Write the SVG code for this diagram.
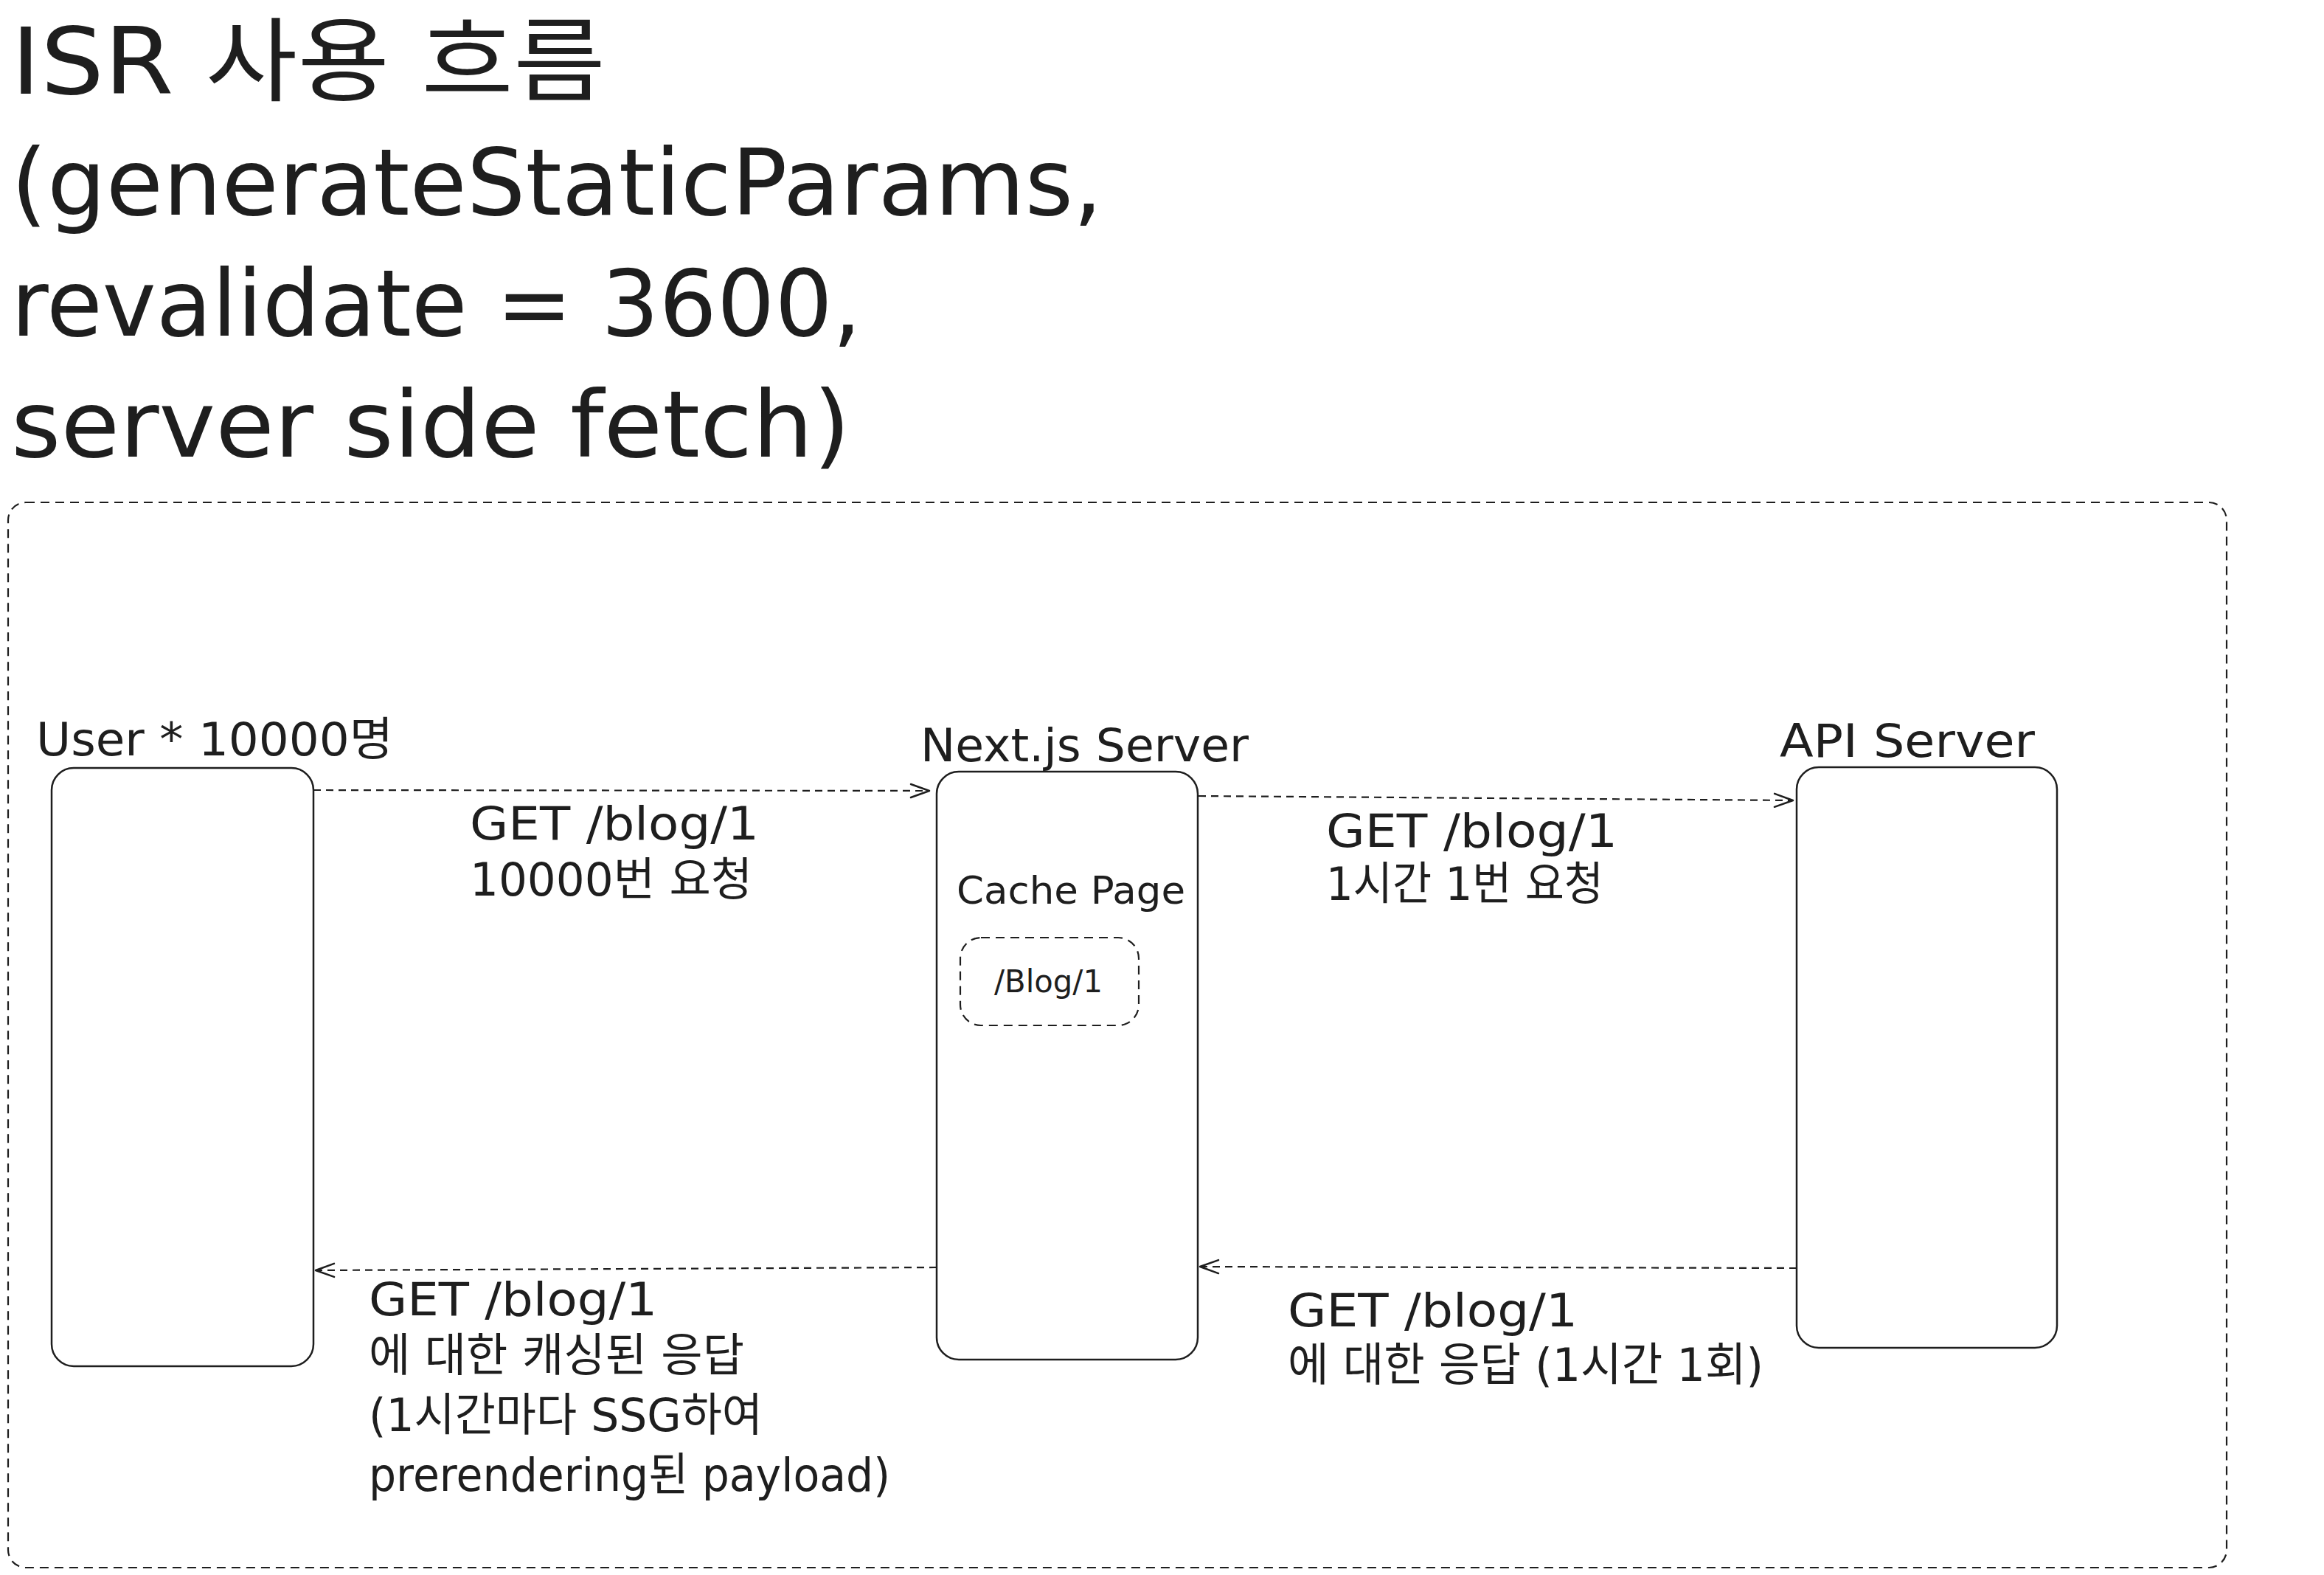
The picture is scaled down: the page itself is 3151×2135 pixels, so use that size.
<svg xmlns="http://www.w3.org/2000/svg" width="3151" height="2135" viewBox="0 0 3151 2135">
<defs>
<style>
.t{font-family:"DejaVu Sans","Noto Sans CJK KR",sans-serif;fill:#1e1e1e}
.title{font-size:124px}
.lbl{font-size:62px}
.box{fill:#ffffff;stroke:#1e1e1e;stroke-width:2.5}
.dash{fill:none;stroke:#1e1e1e;stroke-width:2.2;stroke-dasharray:12 8}
.conn{fill:none;stroke:#1e1e1e;stroke-width:2.2;stroke-dasharray:10 7}
</style>
<marker id="arr" markerUnits="userSpaceOnUse" markerWidth="34" markerHeight="26" viewBox="-30 -13 34 26" refX="0" refY="0" orient="auto">
<path d="M-25,-9 L0,0 L-25,9" fill="none" stroke="#1e1e1e" stroke-width="2.5" stroke-linecap="round" stroke-linejoin="round"/>
</marker>
</defs>
<rect width="3151" height="2135" fill="#ffffff"/>
<g id="title">
<text class="t title" x="15" y="127" textLength="806" lengthAdjust="spacingAndGlyphs">ISR 사용 흐름</text>
<text class="t title" x="15" y="291" textLength="1480" lengthAdjust="spacingAndGlyphs">(generateStaticParams,</text>
<text class="t title" x="15" y="455" textLength="1153" lengthAdjust="spacingAndGlyphs">revalidate = 3600,</text>
<text class="t title" x="15" y="619" textLength="1138" lengthAdjust="spacingAndGlyphs">server side fetch)</text>
</g>
<g id="frame">
<rect class="dash" x="11" y="681" width="3008" height="1444" rx="24"/>
</g>
<g id="user">
<rect class="box" x="70" y="1041" width="355" height="811" rx="30"/>
<text class="t lbl" x="49" y="1024" textLength="484" lengthAdjust="spacingAndGlyphs">User * 10000명</text>
</g>
<g id="nextjs">
<rect class="box" x="1270" y="1046" width="354" height="797" rx="30"/>
<text class="t lbl" x="1248" y="1032" textLength="445" lengthAdjust="spacingAndGlyphs">Next.js Server</text>
<text class="t" style="font-size:52px" x="1297" y="1225" textLength="310" lengthAdjust="spacingAndGlyphs">Cache Page</text>
</g>
<g id="cache">
<rect class="dash" x="1302" y="1271" width="242" height="119" rx="28"/>
<text class="t" style="font-size:43px" x="1348" y="1345" textLength="147" lengthAdjust="spacingAndGlyphs">/Blog/1</text>
</g>
<g id="api">
<rect class="box" x="2436" y="1040" width="353" height="787" rx="30"/>
<text class="t lbl" x="2413" y="1026" textLength="346" lengthAdjust="spacingAndGlyphs">API Server</text>
</g>
<g id="connectors">
<path class="conn" d="M425,1071 L1260,1072" marker-end="url(#arr)"/>
<path class="conn" d="M1625,1079 L2431,1085" marker-end="url(#arr)"/>
<path class="conn" d="M2436,1719 L1627,1717" marker-end="url(#arr)"/>
<path class="conn" d="M1270,1718 L428,1722" marker-end="url(#arr)"/>
</g>
<g id="labels">
<text class="t lbl" x="637" y="1138" textLength="392" lengthAdjust="spacingAndGlyphs">GET /blog/1</text>
<text class="t lbl" x="637" y="1214" textLength="383" lengthAdjust="spacingAndGlyphs">10000번 요청</text>
<text class="t lbl" x="1798" y="1148" textLength="395" lengthAdjust="spacingAndGlyphs">GET /blog/1</text>
<text class="t lbl" x="1798" y="1220" textLength="376" lengthAdjust="spacingAndGlyphs">1시간 1번 요청</text>
<text class="t lbl" x="500" y="1783" textLength="391" lengthAdjust="spacingAndGlyphs">GET /blog/1</text>
<text class="t lbl" x="500" y="1859" textLength="509" lengthAdjust="spacingAndGlyphs">에 대한 캐싱된 응답</text>
<text class="t lbl" x="500" y="1940" textLength="534" lengthAdjust="spacingAndGlyphs">(1시간마다 SSG하여</text>
<text class="t lbl" x="500" y="2021" textLength="707" lengthAdjust="spacingAndGlyphs">prerendering된 payload)</text>
<text class="t lbl" x="1746" y="1798" textLength="393" lengthAdjust="spacingAndGlyphs">GET /blog/1</text>
<text class="t lbl" x="1746" y="1872" textLength="645" lengthAdjust="spacingAndGlyphs">에 대한 응답 (1시간 1회)</text>
</g>
</svg>
